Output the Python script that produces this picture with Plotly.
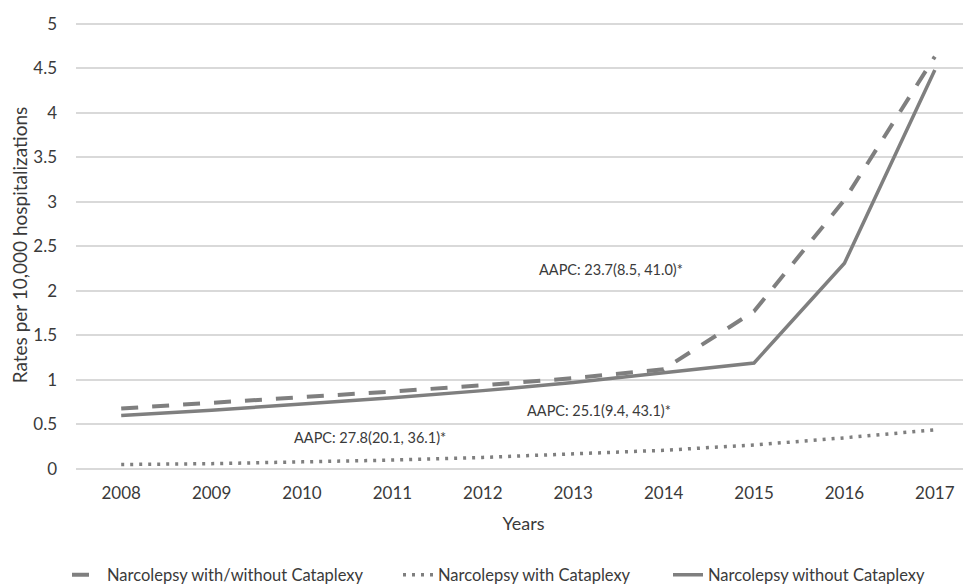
import plotly.graph_objects as go

years = ["2008", "2009", "2010", "2011", "2012", "2013", "2014", "2015", "2016", "2017"]
with_without = [0.68, 0.74, 0.80, 0.87, 0.94, 1.02, 1.12, 1.77, 3.02, 4.63]
with_cataplexy = [0.05, 0.06, 0.08, 0.10, 0.13, 0.17, 0.21, 0.27, 0.35, 0.44]
without_cataplexy = [0.60, 0.66, 0.73, 0.80, 0.88, 0.97, 1.08, 1.19, 2.31, 4.48]
y_ticks = [0, 0.5, 1, 1.5, 2, 2.5, 3, 3.5, 4, 4.5, 5]
y_tick_text = ["0", "0.5", "1", "1.5", "2", "2.5", "3", "3.5", "4", "4.5", "5"]

gray = "#7f7f7f"
text_color = "#3a3a3a"
font_family = "Lato, 'Open Sans', sans-serif"

# the page body has an 8px margin, so the figure is 8px smaller than the window
W, H = 963, 578

fig = go.Figure()
fig.add_trace(go.Scatter(x=years, y=with_without, mode="lines",
                         name="Narcolepsy with/without Cataplexy", legend="legend",
                         line=dict(color=gray, width=4, dash="17px,14px")))
fig.add_trace(go.Scatter(x=years, y=with_cataplexy, mode="lines",
                         name="Narcolepsy with Cataplexy", legend="legend2",
                         line=dict(color=gray, width=3.5, dash="3px,6px")))
fig.add_trace(go.Scatter(x=years, y=without_cataplexy, mode="lines",
                         name="Narcolepsy without Cataplexy", legend="legend3",
                         line=dict(color=gray, width=3.5)))

annotations = [
    (5.42, 2.24, "AAPC: 23.7(8.5, 41.0)*"),
    (5.29, 0.66, "AAPC: 25.1(9.4, 43.1)*"),
    (2.75, 0.35, "AAPC: 27.8(20.1, 36.1)*"),
]
for ax, ay, t in annotations:
    fig.add_annotation(x=ax, y=ay, xref="x", yref="y", text=t, showarrow=False,
                       font=dict(family=font_family, size=14.5, color=text_color))

def legend_at(px):
    return dict(orientation="h", xref="container", yref="container",
                x=px / W, xanchor="left", y=1 - 567 / H, yanchor="middle",
                font=dict(family=font_family, size=16.5, color=text_color),
                itemwidth=30, bgcolor="rgba(0,0,0,0)")

fig.update_layout(
    width=W, height=H,
    margin=dict(l=68, r=0, t=13, b=117, autoexpand=False),
    paper_bgcolor="white", plot_bgcolor="white",
    font=dict(family=font_family, size=14, color=text_color),
    showlegend=True,
    legend=legend_at(59),
    legend2=legend_at(390),
    legend3=legend_at(660),
)
fig.update_xaxes(type="category", range=[-0.5, 9.4], showgrid=False, zeroline=False,
                 showline=False, ticks="", ticklabelstandoff=12, automargin=False,
                 title=dict(text="Years", font=dict(size=18, color=text_color), standoff=15),
                 tickfont=dict(size=17, color=text_color))
fig.update_yaxes(range=[0, 5.03], tickvals=y_ticks, ticktext=y_tick_text,
                 showgrid=True, gridcolor="#d9d9d9", gridwidth=1.5,
                 zeroline=True, zerolinecolor="#d9d9d9", zerolinewidth=1.5,
                 showline=False, ticks="", ticklabelstandoff=18, automargin=False,
                 title=dict(text="Rates per 10,000 hospitalizations",
                            font=dict(size=19, color=text_color), standoff=2),
                 tickfont=dict(size=17, color=text_color))

fig.write_html("out.html")
